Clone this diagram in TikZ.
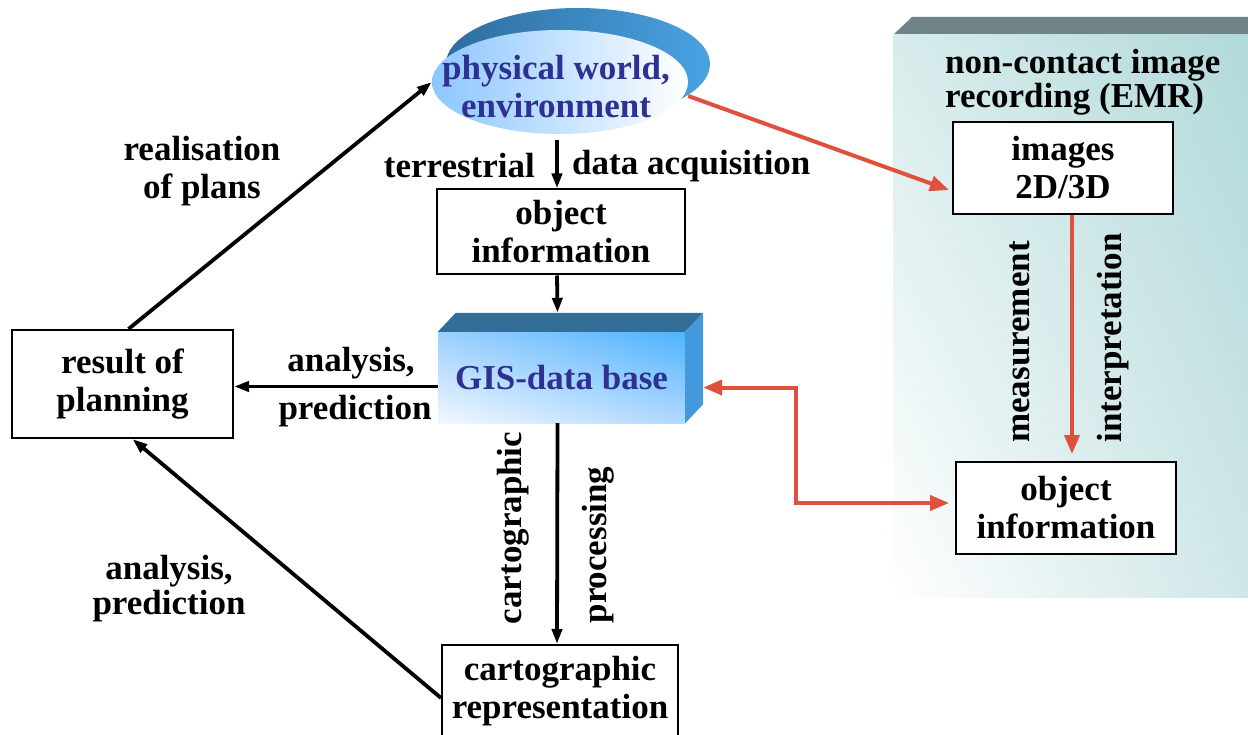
\documentclass[tikz,border=0pt]{standalone}
\usepackage{fontspec}
\setmainfont{Liberation Serif}
\usetikzlibrary{arrows.meta,shapes.geometric,calc,shadings}
\definecolor{arrred}{HTML}{E0503C}
\definecolor{txtblue}{HTML}{2E3192}
\definecolor{panelTop}{HTML}{6F8585}
\definecolor{panelUL}{HTML}{D8ECEC}
\definecolor{panelUR}{HTML}{B2D9DA}
\definecolor{panelLL}{HTML}{FFFFFF}
\definecolor{panelLR}{HTML}{CFE6E7}
\definecolor{ellDarkL}{HTML}{2F6D9E}
\definecolor{ellDarkR}{HTML}{4AA2E2}
\definecolor{ellLightL}{HTML}{8CC6FF}
\definecolor{ellLightM}{HTML}{DDEEFF}
\definecolor{gisTop}{HTML}{336E99}
\definecolor{gisSide}{HTML}{4499DD}
\definecolor{gisUL}{HTML}{9CCFFF}
\definecolor{gisUR}{HTML}{4DB3FF}
\definecolor{gisLL}{HTML}{F2F8FF}
\definecolor{gisLR}{HTML}{B0D8FF}
\tikzset{
  bt/.tip={Triangle[length=15pt,width=10pt]},
  rt/.tip={Triangle[length=19pt,width=15pt]},
}
\begin{document}
\begin{tikzpicture}[x=1pt,y=-1pt,
  every node/.style={font=\bfseries\fontsize{35}{38}\selectfont, align=center, inner sep=0pt},
  box/.style={draw=black, line width=2pt, fill=white},
  blk/.style={line width=3.8pt, -bt},
  redarr/.style={draw=arrred, line width=4pt, -rt},
  lbl/.style={text=black}]
\useasboundingbox (0,0) rectangle (1248,735);
\fill[white] (0,0) rectangle (1248,735);

% right panel
\fill[panelTop] (893,35) -- (912,17) -- (1248,17) -- (1248,35) -- cycle;
\shade[upper left=panelUL, upper right=panelUR, lower left=panelLL, lower right=panelLR] (893,35) rectangle (1248,597);
\node[anchor=west, font=\bfseries\fontsize{35}{34}\selectfont, align=left] (title) at (945,82) {non-contact image\\recording (EMR)};

% physical world ellipse
\shade[left color=ellDarkL, right color=ellDarkR] (578,64) ellipse [x radius=132, y radius=56];
\node[ellipse, minimum width=256pt, minimum height=104pt, left color=ellLightL, middle color=ellLightM, right color=white] (world) at (560,82) {};
\node[text=txtblue] (worldtxt) at (556,86.5) {physical world,\\environment};

% boxes
\node[box, minimum width=248pt, minimum height=85pt] (obj1) at (561,232) {object\\information};
\node[box, minimum width=221pt, minimum height=108pt] (result) at (122.5,384) {result of\\planning};
\node[box, minimum width=236pt, minimum height=92pt] (carto) at (560,691) {cartographic\\representation};
\node[box, minimum width=220pt, minimum height=92pt] (images) at (1063,168) {images\\2D/3D};
\node[box, minimum width=220pt, minimum height=92pt] (obj2) at (1066,508) {object\\information};

% GIS data base block
\node[minimum width=247pt, minimum height=91pt, upper left=gisUL, upper right=gisUR, lower left=gisLL, lower right=gisLR, text=txtblue] (gis) at (561.5,377.5) {GIS-data base};
\fill[gisTop] (gis.north west) -- ++(18,-19) -- ($(gis.north east)+(18,-19)$) -- (gis.north east) -- cycle;
\fill[gisSide] (gis.north east) -- ++(18,-19) -- ($(gis.south east)+(18,-19)$) -- (gis.south east) -- cycle;

% black connectors
\draw[blk] ([xshift=-3pt,yshift=-6pt]world.south) -- ([xshift=-4pt]obj1.north);
\draw[blk] ([xshift=-4pt]obj1.south) -- ([xshift=-4pt,yshift=19pt]gis.north);
\draw[blk] ([yshift=-9pt]gis.west) -- ([yshift=-9pt]gis.west -| result.east);
\draw[blk] ([xshift=6pt]result.north) -- (world.west);
\draw[blk] ([yshift=-7pt]carto.west) -- ([xshift=10pt]result.south);
\draw[blk] ([xshift=-4pt]gis.south) -- ([xshift=-3pt]carto.north);

% red connectors
\coordinate (bend) at (796,503);
\draw[redarr] ([yshift=-14pt]world.east) -- ([xshift=-3pt,yshift=-22pt]images.west);
\draw[redarr] ([xshift=9pt]images.south) -- ([xshift=6pt,yshift=7pt]obj2.north);
\draw[draw=arrred, line width=4pt, rt-rt] ([xshift=18pt,yshift=-10pt]gis.east) -| (bend) -- ([xshift=-6pt,yshift=5pt]obj2.west);

% labels
\node[lbl, anchor=east] (lterr) at (535,166) {terrestrial};
\node[lbl, anchor=west] (ldata) at (572,166) {data acquisition};
\node[lbl] (lreal) at (202,171) {realisation\\of plans};
\node[lbl] (lan1) at (351,363) {analysis,};
\node[lbl] (lpr1) at (355,411) {prediction};
\node[lbl, font=\bfseries\fontsize{35}{35}\selectfont] (lan2) at (169,589) {analysis,\\prediction};
\node[lbl, rotate=90] (lcart) at (513,528) {cartographic};
\node[lbl, rotate=90] (lproc) at (598,545) {processing};
\node[lbl, rotate=90] (lmeas) at (1020,342) {measurement};
\node[lbl, rotate=90] (linterp) at (1113,338) {interpretation};
\end{tikzpicture}
\end{document}
